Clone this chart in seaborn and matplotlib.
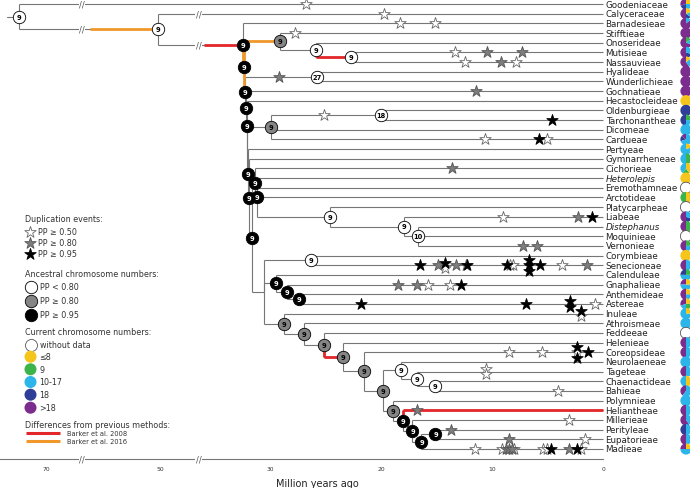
import numpy as np
import matplotlib
matplotlib.use("Agg")
import matplotlib.pyplot as plt
from matplotlib.patches import Wedge
import seaborn as sns
import pandas as pd

sns.set_style("white")
plt.rcParams['font.family'] = ['DejaVu Sans', 'Noto Sans']

# ---------------- data ----------------
tips = ["Goodeniaceae", "Calyceraceae", "Barnadesieae", "Stifftieae", "Onoserideae",
        "Mutisieae", "Nassauvieae", "Hyalideae", "Wunderlichieae", "Gochnatieae",
        "Hecastocleideae", "Oldenburgieae", "Tarchonantheae", "Dicomeae", "Cardueae",
        "Pertyeae", "Gymnarrheneae", "Cichorieae", "Heterolepis", "Eremothamneae",
        "Arctotideae", "Platycarpheae", "Liabeae", "Distephanus", "Moquinieae",
        "Vernonieae", "Corymbieae", "Senecioneae", "Calenduleae", "Gnaphalieae",
        "Anthemideae", "Astereae", "Inuleae", "Athroismeae", "Feddeeae",
        "Helenieae", "Coreopsideae", "Neurolaeneae", "Tageteae", "Chaenactideae",
        "Bahieae", "Polymnieae", "Heliantheae", "Millerieae", "Perityleae",
        "Eupatorieae", "Madieae"]
italic_tips = ["Heterolepis", "Distephanus"]

node_names = ["root", "G1", "R0", "R1", "M0", "M1", "M2", "R2", "W0", "R3", "R4", "R5",
              "C0", "C1", "R6", "R7", "R8", "K", "K2", "V0", "V1", "V2", "A0", "S0",
              "D0", "D1", "D2", "H0", "H1", "H2", "H3", "H4", "H5", "T0", "T1", "T2",
              "H6", "H7", "H8", "H9", "P"]
node_children = [
    ["Goodeniaceae", "G1"], ["Calyceraceae", "R0"], ["Barnadesieae", "R1"], ["M0", "R2"],
    ["Stifftieae", "M1"], ["Onoserideae", "M2"], ["Mutisieae", "Nassauvieae"],
    ["W0", "R3"], ["Hyalideae", "Wunderlichieae"], ["Gochnatieae", "R4"],
    ["Hecastocleideae", "R5"], ["C0", "R6"], ["C1", "Dicomeae", "Cardueae"],
    ["Oldenburgieae", "Tarchonantheae"], ["Pertyeae", "R7"], ["Gymnarrheneae", "R8"],
    ["K", "A0"], ["Cichorieae", "K2"], ["Heterolepis", "Eremothamneae", "Arctotideae", "V0"],
    ["Platycarpheae", "V1"], ["Liabeae", "V2"], ["Distephanus", "Moquinieae", "Vernonieae"],
    ["S0", "D0", "H0"], ["Corymbieae", "Senecioneae"], ["Calenduleae", "D1"],
    ["Gnaphalieae", "D2"], ["Anthemideae", "Astereae"], ["Inuleae", "H1"],
    ["Athroismeae", "H2"], ["Feddeeae", "H3"], ["Helenieae", "H4"], ["Coreopsideae", "H5"],
    ["T0", "H6"], ["Neurolaeneae", "T1"], ["Tageteae", "T2"], ["Chaenactideae", "Bahieae"],
    ["Polymnieae", "H7"], ["Heliantheae", "H8"], ["Millerieae", "H9"], ["P", "Madieae"],
    ["Perityleae", "Eupatorieae"]]
node_ages = [74.7, 50.3, 32.46, 32.4, 29.14, 25.9, 22.7, 32.28, 25.75, 32.19, 32.13, 32.06,
             29.97, 20.0, 31.97, 31.9, 31.68, 31.38, 31.2, 24.6, 18.0, 16.7, 30.55, 26.35,
             29.5, 28.5, 27.4, 28.8, 27.0, 25.2, 23.45, 21.56, 19.86, 18.27, 16.77, 15.18,
             18.94, 18.06, 17.19, 16.38, 15.12]
node_pp = ["w", "w", "b", "b", "g", "w", "w", "b", "w", "b", "b", None,
           "g", "w", "b", "b", "b", "b", "b", "w", "w", "w", None, "w",
           "b", "b", "b", "g", "g", "g", "g", "g", "g", "w", "w", "w",
           "g", "b", "b", "b", "b"]
node_count = [9, 9, 9, 9, 9, 9, 9, 9, 27, 9, 9, None, 9, 18, 9, 9, 9, 9, 9, 9, 9, 10, None, 9,
              9, 9, 9, 9, 9, 9, 9, 9, 9, 9, 9, 9, 9, 9, 9, 9, 9]

red_edges = ["R0", "M2", "H3", "Heliantheae"]      # Barker et al. 2008
orange_edges = ["G1", "R1", "M0", "R2"]            # Barker et al. 2016
axis_breaks = [63.7, 39.4]

star_branch = (["Goodeniaceae", "Calyceraceae", "Barnadesieae", "Barnadesieae", "Stifftieae",
                "Mutisieae", "Mutisieae", "Mutisieae", "Nassauvieae", "Nassauvieae", "Nassauvieae",
                "W0", "Gochnatieae", "C1", "Tarchonantheae", "Cardueae", "Cardueae", "Cardueae",
                "Cichorieae", "Liabeae", "Liabeae", "Liabeae", "Vernonieae", "Vernonieae"]
               + ["Senecioneae"] * 16
               + ["Gnaphalieae"] * 5 + ["Astereae"] * 5 + ["Inuleae"] * 2
               + ["Coreopsideae"] * 6 + ["Tageteae"] * 2
               + ["Bahieae", "Heliantheae", "Millerieae", "Perityleae", "Eupatorieae", "Eupatorieae"]
               + ["Madieae"] * 12)
star_age = ([26.8, 19.8, 18.3, 15.2, 27.8, 13.4, 10.5, 7.3, 12.5, 9.2, 7.9,
             29.2, 11.5, 25.2, 4.65, 10.7, 5.75, 5.1, 13.6, 9.0, 2.3, 1.0, 7.2, 6.0]
            + [16.5, 14.9, 14.3, 14.3, 13.3, 12.4, 12.25, 8.7, 8.4, 8.1, 6.7, 6.7, 6.7, 5.7, 3.7, 1.5]
            + [18.5, 16.8, 15.8, 13.8, 12.8] + [21.8, 7.0, 3.0, 3.0, 0.75] + [2.05, 2.05]
            + [8.5, 5.5, 2.35, 2.35, 2.35, 1.35] + [10.6, 10.6]
            + [4.1, 16.8, 3.05, 13.7, 8.5, 1.65]
            + [11.6, 9.1, 8.8, 8.5, 8.2, 8.05, 5.4, 5.1, 4.7, 3.1, 2.4, 2.0])
star_pp = (["w", "w", "w", "w", "w", "w", "g", "g", "w", "g", "w",
            "g", "g", "w", "b", "w", "b", "w", "g", "w", "g", "b", "g", "g"]
           + ["b", "g", "b", "w", "g", "w", "b", "b", "w", "w", "b", "b", "b", "b", "w", "g"]
           + ["g", "g", "w", "w", "b"] + ["b", "b", "b", "b", "w"] + ["b", "w"]
           + ["w", "w", "b", "w", "b", "b"] + ["w", "w"]
           + ["w", "g", "w", "g", "g", "w"]
           + ["w", "w", "g", "g", "g", "w", "w", "w", "b", "g", "b", "w"])

# current chromosome numbers per tip (fractions), categories: <=8, 9, 10-17, 18, >18
pie_le8 = [0.25, 0.2, 0, 0, 0, 0, 0.15, 0, 0, 0, 1, 0, 0, 0, 0, 0.2, 0, 0.4, 1, 0, 0.5, 0, 0, 0,
           0, 0, 1, 0, 0, 0.25, 0.25, 0.25, 0.25, 0, 0, 0, 0, 0, 0, 0.5, 0, 0, 0, 0, 0, 0, 0.25]
pie_9 = [0, 0, 0, 0, 0.15, 0, 0, 0, 0, 0, 0, 0, 0.25, 0, 0, 0, 0.5, 0.2, 0, 0, 0.5, 0, 0, 0.5,
         0, 0.25, 0, 0, 0.25, 0, 0, 0.25, 0, 0, 0, 0, 0, 0, 0, 0, 0, 0, 0, 0, 0, 0, 0]
pie_10_17 = [0.25, 0.15, 0.15, 0, 0.15, 0.3, 0.25, 0, 0, 0, 0, 0, 0.25, 1, 0.7, 0.8, 0.5, 0.4, 0,
             0, 0, 0, 0.3, 0, 0, 0.25, 0, 0.5, 0.5, 0.5, 0.25, 0.2, 0.75, 1, 0, 0.5, 0.5, 1,
             0.5, 0.5, 0.6, 1, 0.5, 0.4, 0.5, 0.5, 0.5]
pie_18 = [0.2, 0.15, 0, 0, 0, 0.2, 0, 0, 0, 0, 0, 1, 0.5, 0, 0.15, 0, 0, 0, 0, 0, 0, 0, 0.2, 0,
          0, 0, 0, 0, 0.25, 0, 0, 0, 0, 0, 0, 0, 0, 0, 0, 0, 0, 0, 0, 0, 0.5, 0, 0]
pie_gt18 = [0.3, 0.5, 0.85, 1, 0.7, 0.5, 0.6, 1, 1, 1, 0, 0, 0, 0, 0.15, 0, 0, 0, 0, 0, 0, 0,
            0.5, 0.5, 0, 0.5, 0, 0.5, 0, 0.25, 0.5, 0.3, 0, 0, 0, 0.5, 0.5, 0, 0.5, 0, 0.4, 0,
            0.5, 0.6, 0, 0.5, 0.25]

# ---------------- styling ----------------
W, H = 690, 489
LINE = "#767676"
C_RED, C_ORANGE = "#e3262a", "#f0992a"
PP_FILL = {"w": "white", "g": "#858585", "b": "black"}
STAR_FACE = {"w": "white", "g": "#7d7d7d", "b": "black"}
STAR_EDGE = {"w": "#666666", "g": "#555555", "b": "black"}
PIE_COLORS = ["#7b2d8e", "#2f3f98", "#2bb5e8", "#3bb54a", "#f6c51c"]  # >18,18,10-17,9,<=8

AGE_KNOTS = np.array([-20.0, 0.0, 35.0, 50.0, 100.0])
PX_KNOTS = np.array([825.3, 603.3, 214.8, 160.0, -125.0])


def fwd(a):
    return -np.interp(np.asarray(a, dtype=float), AGE_KNOTS, PX_KNOTS)


def inv(s):
    return np.interp(-np.asarray(s, dtype=float), PX_KNOTS[::-1], AGE_KNOTS[::-1])


TIP_TOP, TIP_STEP = 5.0, 445.0 / 46
AXIS_PX = 460.0


def row(px):
    return (px - TIP_TOP) / TIP_STEP


fig = plt.figure(figsize=(W / 100, H / 100), dpi=100)
ax = fig.add_axes([0, (H - AXIS_PX) / H, 1, AXIS_PX / H])
ax.set_xscale("function", functions=(fwd, inv))
ax.set_xlim(float(inv(0.0)), float(inv(-690.0)))
ax.set_ylim(row(AXIS_PX), row(0))

# ---------------- tree layout ----------------
children = dict(zip(node_names, node_children))
age = dict(zip(node_names, node_ages))
for t in tips:
    age[t] = 0.0
ypos = {t: i for i, t in enumerate(tips)}


def layout(n):
    if n in ypos:
        return ypos[n]
    ys = [layout(c) for c in children[n]]
    ypos[n] = (ys[0] + ys[-1]) / 2
    return ypos[n]


layout("root")

edge_color = {e: C_RED for e in red_edges}
edge_color.update({e: C_ORANGE for e in orange_edges})

for p in node_names:
    for c in children[p]:
        a0, a1, y0, y1 = age[p], age[c], ypos[p], ypos[c]
        col = edge_color.get(c)
        brk = [b for b in axis_breaks if a1 < b < a0]
        ax.plot([a0, a0], [y0, y1], color=LINE, lw=0.8, zorder=1, solid_capstyle="butt")
        ax.plot([a0, a1], [y1, y1], color=LINE, lw=0.8, zorder=1, solid_capstyle="butt")
        if brk:
            b = brk[0]
            ax.text(b, y1, "//", fontsize=6, color="#555555", ha="center", va="center",
                    zorder=3, bbox=dict(boxstyle="square,pad=0.05", fc="white", ec="none"))
            if col:
                ax.plot([b - 1.4, a1], [y1, y1], color=col, lw=2.0, zorder=2,
                        solid_capstyle="butt")
        elif col:
            ax.plot([a0, a0], [y0, y1], color=col, lw=2.0, zorder=2, solid_capstyle="butt")
            ax.plot([a0, a1], [y1, y1], color=col, lw=2.0, zorder=2, solid_capstyle="butt")

# root stem
ax.plot([age["root"] + 2.1, age["root"]], [ypos["root"]] * 2, color=LINE, lw=0.8, zorder=1)

# duplication stars (identical ages on one branch are stacked)
sdf = pd.DataFrame({"branch": star_branch, "age": star_age, "pp": star_pp})
sdf["y"] = sdf["branch"].map(ypos).astype(float)
grp = sdf.groupby(["branch", "age"])
sdf["k"] = grp.cumcount()
sdf["n"] = grp["age"].transform("size")
sdf["y"] = sdf["y"] + (sdf["k"] - (sdf["n"] - 1) / 2) * 0.55
for cls in ["w", "g", "b"]:
    d = sdf[sdf["pp"] == cls]
    sns.scatterplot(data=d, x="age", y="y", marker="*", s=75, color=STAR_FACE[cls],
                    edgecolor=STAR_EDGE[cls], linewidth=0.6, ax=ax, legend=False, zorder=4)

# ancestral chromosome number circles
ndf = pd.DataFrame({"name": node_names, "age": node_ages, "pp": node_pp, "count": node_count})
ndf = ndf[ndf["pp"].notna()].copy()
ndf["y"] = ndf["name"].map(ypos)
for cls in ["w", "g", "b"]:
    d = ndf[ndf["pp"] == cls]
    sns.scatterplot(data=d, x="age", y="y", marker="o", s=80, color=PP_FILL[cls],
                    edgecolor="black", linewidth=0.6, ax=ax, legend=False, zorder=5)
for _, r in ndf.iterrows():
    ax.text(r["age"], r["y"], str(int(r["count"])), fontsize=4.8, fontweight="bold",
            color="white" if r["pp"] == "b" else "black", ha="center", va="center", zorder=6)

# tip labels
for t in tips:
    ax.text(-0.2, ypos[t], t, fontsize=6.3, ha="left", va="center", color="#222222",
            style="italic" if t in italic_tips else "normal", zorder=6)

# time axis
ax.set_xlabel("")
ax.set_ylabel("")
for s in ["top", "left", "right"]:
    ax.spines[s].set_visible(False)
ax.spines["bottom"].set_color(LINE)
ax.spines["bottom"].set_linewidth(0.8)
ax.spines["bottom"].set_bounds(float(inv(0.0)), 0)
ax.set_yticks([])
tick_ages = [70, 60, 50, 35, 30, 25, 20, 15, 10, 5, 0]
ax.set_xticks(tick_ages)
ax.set_xticklabels([str(a) if a in (70, 50, 30, 20, 10, 0) else "" for a in tick_ages])
ax.xaxis.set_minor_locator(matplotlib.ticker.NullLocator())
ax.tick_params(axis="x", direction="inout", length=5, width=0.6, color=LINE,
               labelsize=4.3, labelcolor="#333333", pad=2.5)
for b in axis_breaks:
    ax.text(b, 0, "//", transform=ax.get_xaxis_transform(), fontsize=6, color="#555555",
            ha="center", va="center", zorder=3,
            bbox=dict(boxstyle="square,pad=0.05", fc="white", ec="none"))
ax.grid(False)

# ---------------- overlay (pies, legend) in pixel coordinates ----------------
ov = fig.add_axes([0, 0, 1, 1])
ov.set_xlim(0, W)
ov.set_ylim(0, H)
ov.axis("off")


def Y(px):
    return H - px


pie_table = list(zip(pie_gt18, pie_18, pie_10_17, pie_9, pie_le8))
to_ov = ov.transData.inverted()
for i, t in enumerate(tips):
    cx, cy = to_ov.transform(ax.transData.transform((-7.45, ypos[t])))
    fr = pie_table[i]
    R = 5.6
    if sum(fr) == 0:
        ov.add_patch(Wedge((cx, cy), R, 0, 360, fc="white", ec="#555555", lw=0.6))
        continue
    th = 90.0
    for f, c in zip(fr, PIE_COLORS):
        if f > 0:
            ov.add_patch(Wedge((cx, cy), R, th, th + 360 * f, fc=c, ec="none"))
            th += 360 * f

FS_LEG = 5.8
TX = 25
ov.text(TX, Y(220), "Duplication events:", fontsize=FS_LEG, color="#333333", va="center")
for yy, cls, lab in [(232.7, "w", "PP ≥ 0.50"), (244, "g", "PP ≥ 0.80"), (254.7, "b", "PP ≥ 0.95")]:
    ov.scatter([29.5], [Y(yy)], marker="*", s=75, c=STAR_FACE[cls], edgecolors=STAR_EDGE[cls],
               linewidths=0.6)
    ov.text(38, Y(yy), lab, fontsize=FS_LEG, color="#333333", va="center")
ov.text(TX, Y(274.3), "Ancestral chromosome numbers:", fontsize=FS_LEG, color="#333333",
        va="center")
for yy, cls, lab in [(288, "w", "PP < 0.80"), (302, "g", "PP ≥ 0.80"), (316, "b", "PP ≥ 0.95")]:
    ov.scatter([30.5], [Y(yy)], marker="o", s=80, c=PP_FILL[cls], edgecolors="black",
               linewidths=0.6)
    ov.text(39.5, Y(yy), lab, fontsize=FS_LEG, color="#333333", va="center")
ov.text(TX, Y(333), "Current chromosome numbers:", fontsize=FS_LEG, color="#333333", va="center")
cur = [(346, "white", "without data"), (357.7, PIE_COLORS[4], "≤8"), (370.3, PIE_COLORS[3], "9"),
       (383, PIE_COLORS[2], "10-17"), (395.7, PIE_COLORS[1], "18"), (408.7, PIE_COLORS[0], ">18")]
for yy, c, lab in cur:
    ov.scatter([30.5], [Y(yy)], marker="o", s=75, c=c,
               edgecolors="#555555" if c == "white" else "none", linewidths=0.6)
    ov.text(39.5, Y(yy), lab, fontsize=FS_LEG, color="#333333", va="center")
ov.text(TX, Y(426), "Differences from previous methods:", fontsize=FS_LEG, color="#333333",
        va="center")
for yy, c, lab in [(434.3, C_RED, "Barker et al. 2008"), (441.7, C_ORANGE, "Barker et al. 2016")]:
    ov.plot([25.7, 60], [Y(yy), Y(yy)], color=c, lw=2.2, solid_capstyle="butt")
    ov.text(66.7, Y(yy), lab, fontsize=4.8, color="#333333", va="center")

ov.text(317, Y(484), "Million years ago", fontsize=7, color="#222222", ha="center", va="center")

fig.savefig("out.png", dpi=100)
